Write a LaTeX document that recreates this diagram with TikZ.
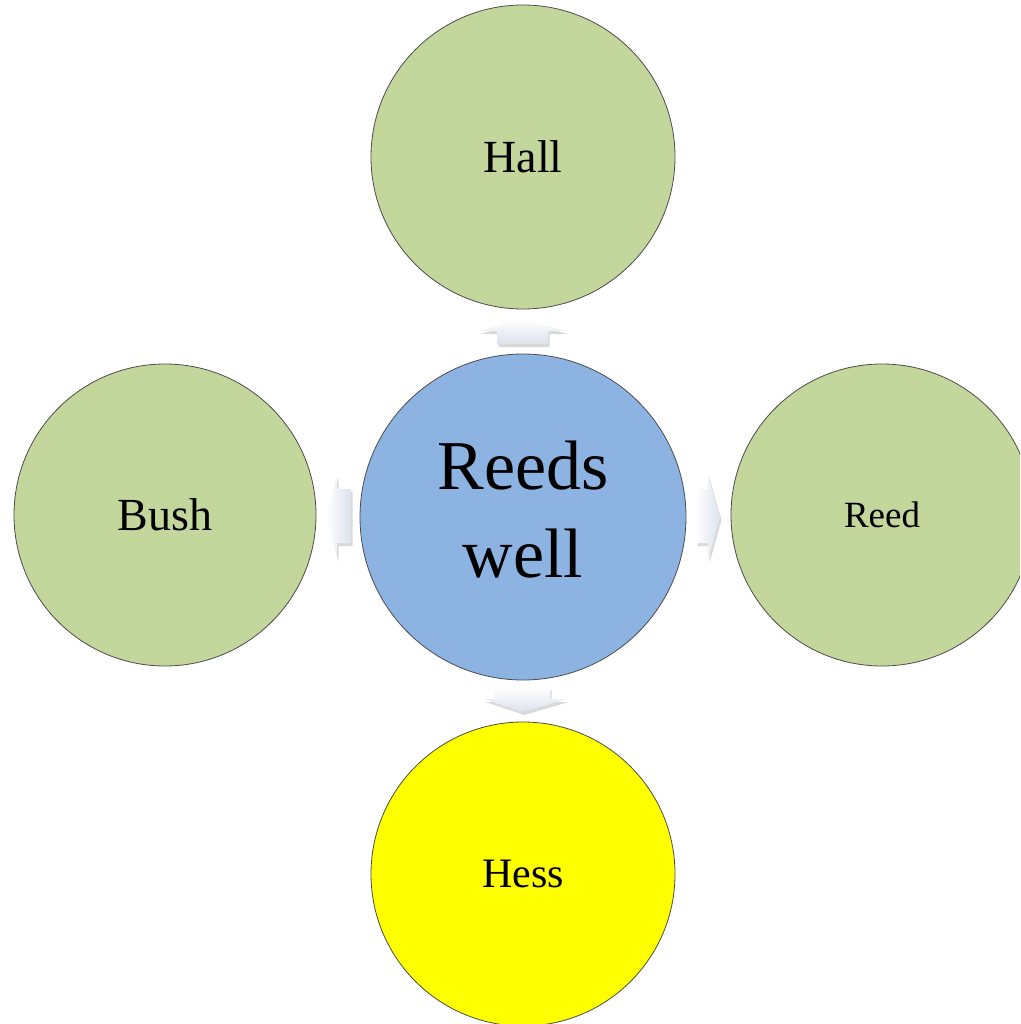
\documentclass[tikz,border=0pt]{standalone}
\usepackage{fontspec}
\setmainfont{Liberation Serif}
\usetikzlibrary{shadows}
\definecolor{cgreen}{HTML}{C3D69B}
\definecolor{cblue}{HTML}{8DB3E2}
\definecolor{cyellow}{HTML}{FFFF00}
\definecolor{arrowlo}{HTML}{DCE1EC}
\tikzset{
  bubble/.style={circle, draw=black!70, line width=0.8pt, minimum size=#1, inner sep=0pt, align=center},
  blockarrow/.style={top color=white, bottom color=arrowlo, draw=none,
    drop shadow={shadow xshift=1.5pt, shadow yshift=-3pt, opacity=0.25, fill=black!60}},
  blockarrowh/.style={left color=white, right color=arrowlo, draw=none,
    drop shadow={shadow xshift=1.5pt, shadow yshift=-3pt, opacity=0.25, fill=black!60}},
}
\begin{document}
\begin{tikzpicture}[x=1pt,y=-1pt]
\useasboundingbox (0,0) rectangle (1020,1024);
\clip (0,0) rectangle (1020,1024);
% block arrows
\path[blockarrow] (497,344) -- (497,331) -- (479,331) -- (523,319) -- (566,331) -- (548,331) -- (548,344) -- cycle;
\path[blockarrow] (495,687) -- (550,687) -- (550,699) -- (567,699) -- (523,712) -- (484,699) -- (495,699) -- cycle;
\path[blockarrowh] (351,489) -- (337,489) -- (337,475) -- (326,517) -- (337,558) -- (337,543) -- (351,543) -- cycle;
\path[blockarrowh] (696,489) -- (708,489) -- (708,475) -- (720,517) -- (708,560) -- (708,543) -- (696,543) -- cycle;
% circles
\node[bubble=304pt, fill=cgreen, font=\fontsize{46}{50}\selectfont] (hall) at (523,157) {Hall};
\node[bubble=326pt, fill=cblue] (center) at (523,517) {};
\node[align=center, font=\fontsize{70}{88}\selectfont] (centerlabel) at (523,510) {Reeds\\well};
\node[bubble=302pt, fill=cgreen, font=\fontsize{46}{50}\selectfont] (bush) at (165,515) {Bush};
\node[bubble=302pt, fill=cgreen, font=\fontsize{37}{40}\selectfont] (reed) at (882,515) {Reed};
\node[bubble=304pt, fill=cyellow, font=\fontsize{42}{46}\selectfont] (hess) at (523,874) {Hess};
\end{tikzpicture}
\end{document}
